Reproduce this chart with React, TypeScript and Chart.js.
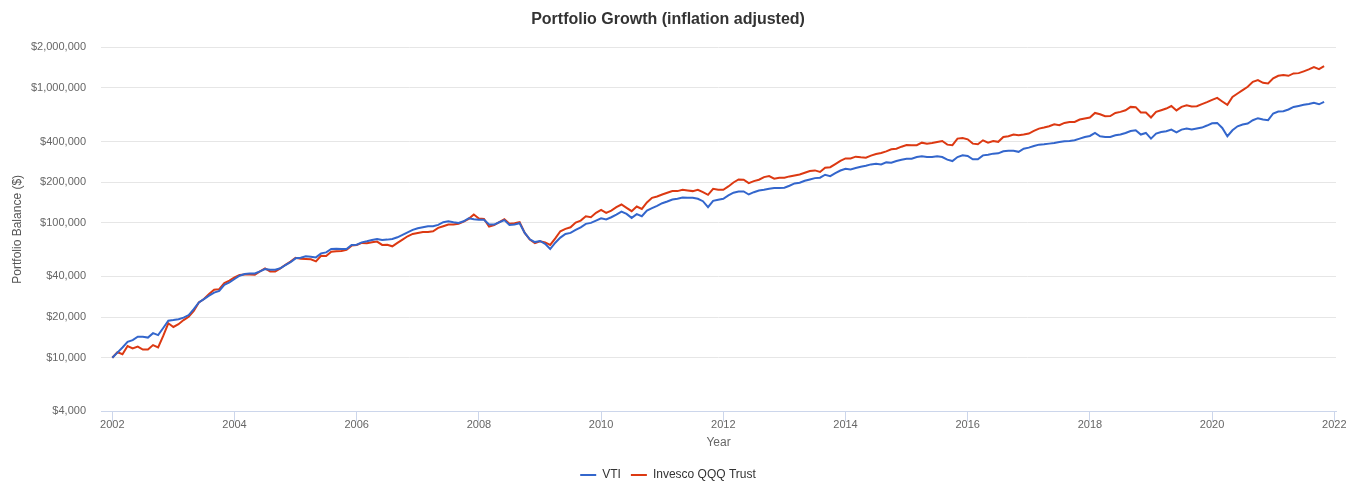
import React, { useEffect, useRef } from "react";
import { Chart, registerables } from "chart.js";

Chart.register(...registerables);

// Monthly series, starting January 2002 (inflation adjusted portfolio balance, $)
const START_YEAR = 2002;

const VTI = [
  10000, 10900, 11900, 13100, 13500, 14300, 14300, 14100, 15200, 14700,
  16600, 18800, 19000, 19300, 19800, 20700, 22900, 25700, 27200, 28800,
  30400, 31300, 34700, 36100, 38300, 40500, 41700, 42100, 42100, 43600,
  45400, 44900, 44900, 46000, 48500, 51000, 54500, 55000, 56400, 56100,
  55400, 59300, 60300, 63900, 64300, 63900, 63900, 68500, 68800, 71600,
  72900, 74600, 75900, 74600, 75000, 75900, 78000, 81300, 85000, 88500,
  91000, 92600, 94200, 94200, 96400, 100900, 102600, 100900, 99800, 102600,
  108000, 106000, 105100, 105100, 97000, 97000, 100900, 104600, 96400,
  97000, 99200, 84100, 75400, 71900, 73300, 69700, 63900, 71200, 77600,
  82700, 84100, 88500, 92600, 98200, 99800, 103800, 108000, 105700, 109900,
  115100, 121100, 116400, 108700, 115800, 111800, 123000, 128500, 133500, 139600,
  143700, 148800, 150500, 153900, 153100, 153100, 150500, 144500, 130400, 145400,
  148000, 150500, 159300, 166900, 170600, 170600, 162000, 168500, 173500, 175600,
  178600, 180600, 180600, 181600, 188000, 195600, 198000, 204900, 209500, 214200,
  215700, 227000, 221700, 233500, 244000, 251500, 248600, 254200, 260400, 264800,
  270700, 274000, 270700, 280200, 278600, 286600, 293400, 298500, 298500, 306900,
  310500, 306900, 306900, 310500, 306900, 293400, 286600, 306900, 315900,
  312600, 295100, 295100, 315900, 319700, 325300, 327000, 339000, 342000, 342000,
  335500, 354100, 360300, 370400, 379300, 381500, 385900, 390000, 396700, 401300,
  403600, 408400, 420400, 432500, 439700, 463000, 437500, 432500, 432500, 444800,
  450400, 463000, 479100, 484800, 450400, 463000, 420400, 458100, 470900, 476400,
  490300, 468000, 490300, 498800, 490300, 498800, 507500, 525300, 546300, 549500,
  504000, 437500, 484800, 518800, 534600, 543800, 575400, 595600, 581700, 575400,
  645300, 667600, 671400, 691000, 722000, 734500, 748000, 760000, 774000, 755000, 787000,
];

const QQQ = [
  10000, 11000, 10600, 12200, 11700, 12100, 11500, 11500, 12400, 11900,
  14500, 18000, 16900, 17700, 19000, 20100, 22200, 25700, 27200, 29600,
  31900, 32200, 35700, 37200, 39300, 41000, 41400, 41400, 41200, 43600,
  45900, 43600, 43600, 45900, 48800, 51500, 55000, 54000, 53900, 53600,
  51800, 57000, 56700, 61100, 61400, 61800, 62900, 67700, 68500, 70900,
  70500, 71600, 72500, 68500, 68800, 66900, 70900, 75000, 79400, 82700,
  84100, 85500, 85500, 86500, 91600, 94200, 97000, 97000, 98200, 102100,
  106900, 115100, 107500, 106900, 93700, 96000, 100900, 106200, 98200,
  99200, 100900, 84100, 75000, 70500, 72900, 71600, 68500, 76700, 86500,
  90100, 92600, 100300, 103800, 111800, 109900, 118400, 124700, 118400, 123200,
  130400, 136500, 129100, 121800, 132000, 126500, 141500, 153000, 156500, 162000,
  166900, 171600, 171600, 175600, 173500, 171600, 175600, 168500, 161000, 178600,
  175600, 175600, 185800, 198900, 209500, 208400, 196600, 203500, 208400, 217900,
  221700, 212100, 215700, 215700, 220600, 224400, 228200, 234900, 241500, 244300,
  238000, 255800, 258000, 272000, 287500, 300000, 300000, 309000, 306000, 303800,
  314300, 323100, 328600, 338300, 350000, 354100, 366300, 376900, 376000, 376000,
  392400, 385900, 390000, 396700, 403600, 379300, 376000, 420400, 424900,
  415400, 385900, 381500, 408400, 392400, 403600, 398000, 432500, 438000, 450400,
  444800, 450400, 458100, 479100, 498800, 507500, 518800, 537000, 527800, 549500,
  558700, 558700, 581700, 592200, 602400, 651600, 637500, 616000, 617000, 651600,
  663000, 682300, 722300, 719000, 656200, 656200, 602400, 663000, 682300, 702300,
  733000, 680000, 722300, 743000, 727000, 731000, 756800, 782500, 814700, 842400,
  792500, 747300, 857000, 907800, 960900, 1017400, 1107800, 1140300, 1088900, 1077700,
  1174900, 1227300, 1243000, 1227300, 1279000, 1285000, 1325000, 1369000, 1426000, 1377000, 1449000,
];

const YEAR_TICKS = [2002, 2004, 2006, 2008, 2010, 2012, 2014, 2016, 2018, 2020, 2022];
const BALANCE_TICKS = [4000, 10000, 20000, 40000, 100000, 200000, 400000, 1000000, 2000000];

const FONT = "'Liberation Sans', Arial, Helvetica, sans-serif";

export default function App() {
  const canvasRef = useRef<HTMLCanvasElement | null>(null);

  useEffect(() => {
    document.body.style.margin = "0";
    const canvas = canvasRef.current;
    if (!canvas) return;

    const toPoints = (arr: number[]) =>
      arr.map((v, i) => ({ x: START_YEAR + i / 12, y: v }));

    const chart = new Chart(canvas, {
      type: "line",
      data: {
        datasets: [
          {
            label: "VTI",
            data: toPoints(VTI),
            borderColor: "#3366CC",
            backgroundColor: "#3366CC",
            borderWidth: 2,
            pointRadius: 0,
            tension: 0,
          },
          {
            label: "Invesco QQQ Trust",
            data: toPoints(QQQ),
            borderColor: "#DC3912",
            backgroundColor: "#DC3912",
            borderWidth: 2,
            pointRadius: 0,
            tension: 0,
          },
        ],
      },
      options: {
        animation: false,
        responsive: true,
        maintainAspectRatio: false,
        layout: { padding: { left: 0, right: 10, top: 0, bottom: 5 } },
        plugins: {
          title: {
            display: true,
            text: "Portfolio Growth (inflation adjusted)",
            color: "#333333",
            font: { family: FONT, size: 16, weight: "bold" },
            padding: { top: 10, bottom: 18 },
          },
          legend: {
            position: "bottom",
            labels: {
              usePointStyle: true,
              pointStyle: "line",
              pointStyleWidth: 16,
              color: "#333333",
              font: { family: FONT, size: 12 },
              padding: 10,
            },
          },
          tooltip: { enabled: false },
        },
        scales: {
          x: {
            type: "linear",
            min: 2001.815,
            max: 2022.028,
            afterBuildTicks: (s: any) => {
              s.ticks = YEAR_TICKS.map((v) => ({ value: v }));
            },
            ticks: {
              callback: (v: any) => String(v),
              color: "#666666",
              font: { family: FONT, size: 11 },
              padding: -3,
              maxRotation: 0,
              autoSkip: false,
            },
            grid: {
              display: true,
              drawOnChartArea: false,
              drawTicks: true,
              tickLength: 10,
              color: "#ccd6eb",
            },
            border: { display: true, color: "#ccd6eb" },
            title: {
              display: true,
              text: "Year",
              color: "#666666",
              font: { family: FONT, size: 12 },
              padding: { top: 7, bottom: 9 },
            },
          },
          y: {
            type: "logarithmic",
            min: 4000,
            max: 2000000,
            afterBuildTicks: (s: any) => {
              s.ticks = BALANCE_TICKS.map((v) => ({ value: v }));
            },
            afterFit: (s: any) => {
              s.width = 101;
            },
            ticks: {
              callback: (v: any) => "$" + Number(v).toLocaleString("en-US"),
              color: "#666666",
              font: { family: FONT, size: 11 },
              padding: 15,
              autoSkip: false,
            },
            grid: { color: "#e6e6e6", drawTicks: false },
            border: { display: false },
            title: {
              display: true,
              text: "Portfolio Balance ($)",
              color: "#555555",
              font: { family: FONT, size: 12 },
              padding: { top: 10, bottom: 0 },
            },
          },
        },
      },
    } as any);

    return () => chart.destroy();
  }, []);

  return (
    <div style={{ position: "absolute", left: 0, top: 0, width: 1346, height: 496 }}>
      <canvas ref={canvasRef} />
    </div>
  );
}
